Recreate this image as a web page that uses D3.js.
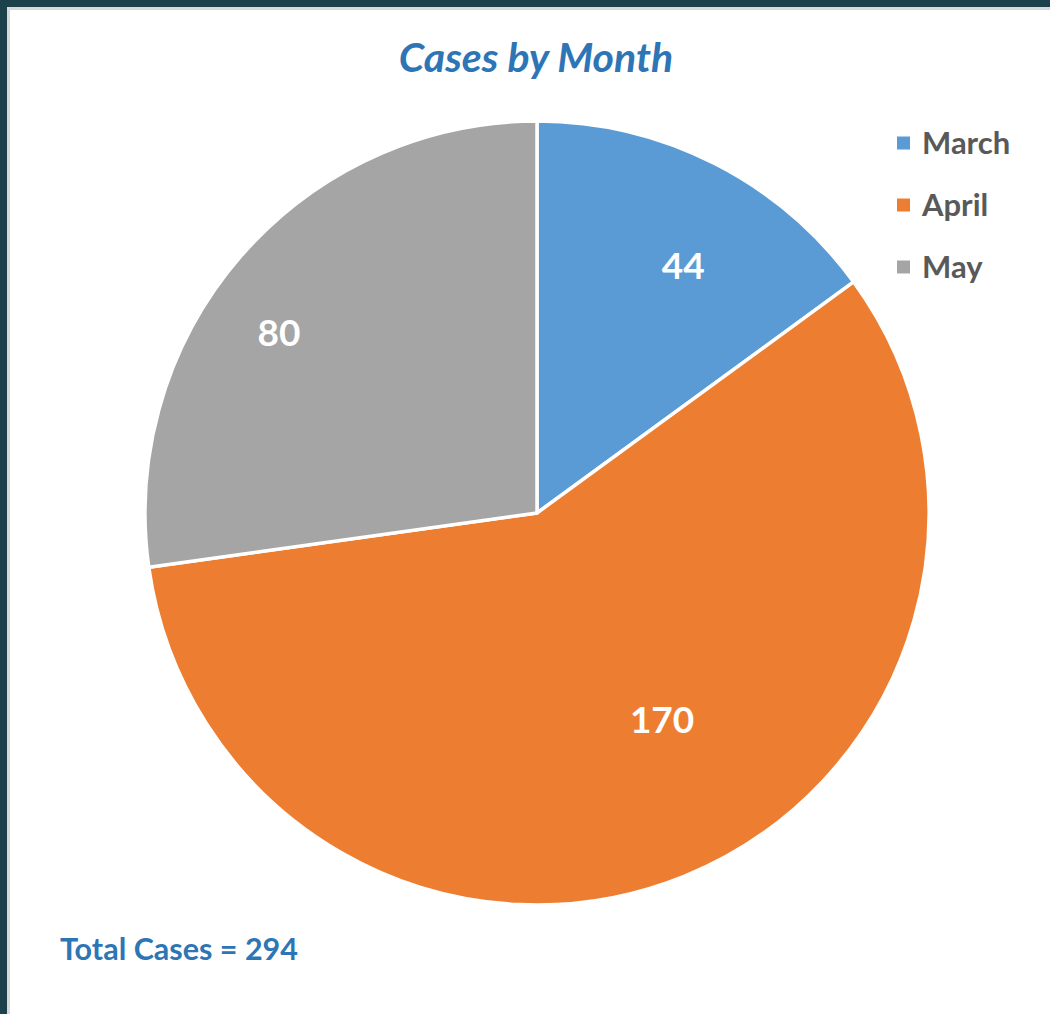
<!DOCTYPE html>
<html>
<head>
<meta charset="utf-8">
<script src="https://cdn.jsdelivr.net/npm/d3@7"></script>
<style>
  html, body { margin: 0; padding: 0; background: #1b424a; }
  svg { display: block; }
</style>
</head>
<body>
<svg id="chart" width="1050" height="1014"></svg>
<script>
// ---- data ----
const categories = ["March", "April", "May"];
const values = [44, 170, 80];
const colors = ["#5b9bd5", "#ed7d31", "#a5a5a5"];
const titleText = "Cases by Month";
const totalLabel = "Total Cases = ";

// ---- layout ----
const W = 1050, H = 1014;
const cx = 537, cy = 513, R = 392;
const FONT = "Lato, 'Open Sans', sans-serif";
// label placement tweak (angle offset in degrees, radius fraction) per slice
const labelPlace = { March: [3.7, 0.732], April: [-9.1, 0.617], May: [-6.1, 0.803] };

const svg = d3.select("#chart");

// chart area
svg.append("rect").attr("x", 8.5).attr("y", 8.5).attr("width", W).attr("height", H)
  .attr("fill", "#ffffff").attr("stroke", "#d9d9d9").attr("stroke-width", 3);

const data = categories.map((c, i) => ({ cat: c, value: values[i], color: colors[i] }));
const total = d3.sum(values);

// title
svg.append("text").attr("x", 536).attr("y", 72).attr("text-anchor", "middle")
  .attr("font-family", FONT).attr("font-weight", 700).attr("font-style", "italic")
  .attr("font-size", 41).attr("fill", "#2e75b6").text(titleText);

const pie = d3.pie().value(d => d.value).sort(null);
const arc = d3.arc().innerRadius(0).outerRadius(R);
const arcs = pie(data);

const g = svg.append("g").attr("transform", `translate(${cx},${cy})`);
g.selectAll("path").data(arcs).join("path")
  .attr("d", arc).attr("fill", d => d.data.color)
  .attr("stroke", "#ffffff").attr("stroke-width", 3.5).attr("stroke-linejoin", "round");

g.selectAll("text.lbl").data(arcs).join("text").attr("class", "lbl")
  .attr("transform", d => {
    const p = labelPlace[d.data.cat];
    const a = (d.startAngle + d.endAngle) / 2 + p[0] * Math.PI / 180;
    const r = R * p[1];
    return `translate(${r * Math.sin(a)},${-r * Math.cos(a)})`;
  })
  .attr("text-anchor", "middle").attr("dy", "0.36em")
  .attr("font-family", FONT).attr("font-weight", 700).attr("font-size", 37)
  .attr("fill", "#ffffff").text(d => d.data.value);

// legend
const lg = svg.append("g").attr("transform", "translate(897,143)");
const items = lg.selectAll("g").data(data).join("g")
  .attr("transform", (d, i) => `translate(0,${i * 62})`);
items.append("rect").attr("x", 0).attr("y", -6.5).attr("width", 13).attr("height", 13)
  .attr("fill", d => d.color);
items.append("text").attr("x", 25).attr("y", 0).attr("dy", "0.36em")
  .attr("font-family", FONT).attr("font-weight", 700).attr("font-size", 31)
  .attr("fill", "#595959").text(d => d.cat);

// total
svg.append("text").attr("x", 60).attr("y", 960)
  .attr("font-family", FONT).attr("font-weight", 700).attr("font-size", 30.5)
  .attr("fill", "#2e75b6").text(totalLabel + total);
</script>
</body>
</html>
